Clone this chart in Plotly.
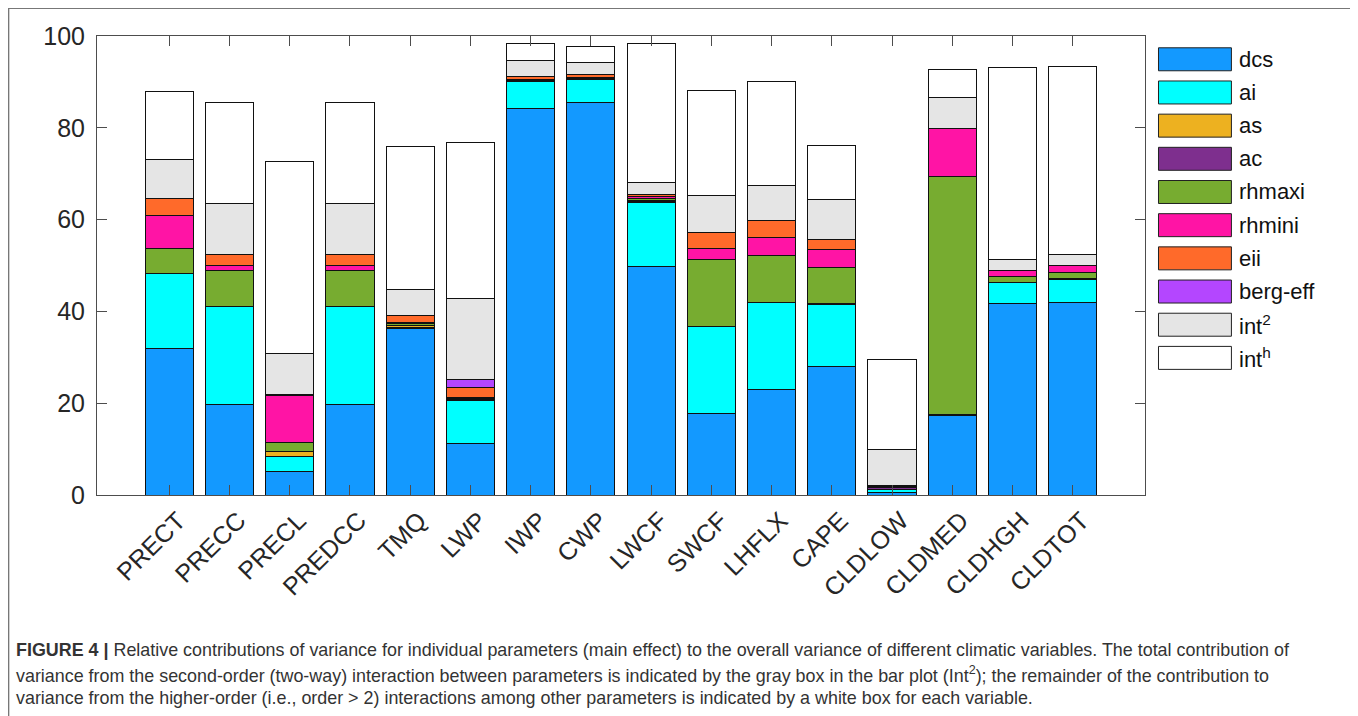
import plotly.graph_objects as go

categories = ["PRECT", "PRECC", "PRECL", "PREDCC", "TMQ", "LWP", "IWP", "CWP",
              "LWCF", "SWCF", "LHFLX", "CAPE", "CLDLOW", "CLDMED", "CLDHGH", "CLDTOT"]

dcs      = [32.0, 19.8, 5.1, 19.8, 36.3, 11.3, 84.1, 85.6, 49.7, 17.7, 23.0, 28.0, 0.5, 17.4, 41.8, 42.0]
ai       = [16.3, 21.2, 3.2, 21.2, 0.2, 9.2, 5.9, 5.0, 14.1, 19.0, 18.9, 13.5, 0.6, 0.0, 4.5, 5.0]
as_      = [0.0, 0.0, 1.1, 0.0, 0.4, 0.2, 0.1, 0.1, 0.1, 0.0, 0.0, 0.1, 0.2, 0.0, 0.0, 0.0]
ac       = [0.0, 0.0, 0.1, 0.0, 0.1, 0.2, 0.2, 0.1, 0.2, 0.0, 0.1, 0.2, 0.3, 0.2, 0.1, 0.1]
rhmaxi   = [5.4, 8.0, 1.9, 8.0, 0.3, 0.2, 0.1, 0.1, 0.6, 14.5, 10.1, 7.8, 0.2, 51.8, 1.2, 1.4]
rhmini   = [7.3, 1.0, 10.3, 1.0, 0.2, 0.1, 0.1, 0.05, 0.3, 2.4, 4.1, 3.9, 0.1, 10.5, 1.4, 1.5]
eii      = [3.6, 2.3, 0.2, 2.3, 1.6, 2.2, 0.6, 0.6, 0.4, 3.6, 3.6, 2.2, 0.1, 0.0, 0.0, 0.0]
berg_eff = [0.0, 0.0, 0.1, 0.0, 0.0, 1.7, 0.0, 0.0, 0.0, 0.0, 0.0, 0.0, 0.0, 0.0, 0.0, 0.0]
int2     = [8.4, 11.1, 8.8, 11.1, 5.7, 17.8, 3.5, 2.7, 2.6, 8.0, 7.7, 8.6, 8.0, 6.7, 2.3, 2.4]
inth     = [14.9, 22.1, 41.8, 22.1, 31.2, 33.9, 3.7, 3.4, 30.4, 23.0, 22.5, 11.8, 19.6, 6.1, 41.8, 40.9]

series_names = ["dcs", "ai", "as", "ac", "rhmaxi", "rhmini", "eii", "berg-eff",
                "int<sup>2</sup>", "int<sup>h</sup>"]
series_values = [dcs, ai, as_, ac, rhmaxi, rhmini, eii, berg_eff, int2, inth]
series_colors = ["#1399FF", "#00FFFF", "#EDB120", "#7E2F8E", "#77AC30",
                 "#FF14A5", "#FF6A2A", "#B446FF", "#E5E5E5", "#FFFFFF"]

y_ticks = [0, 20, 40, 60, 80, 100]

caption_lines = [
    "<b>FIGURE 4 |</b> Relative contributions of variance for individual parameters (main effect) to the overall variance of different climatic variables. The total contribution of",
    "variance from the second-order (two-way) interaction between parameters is indicated by the gray box in the bar plot (Int<sup>2</sup>); the remainder of the contribution to",
    "variance from the higher-order (i.e., order > 2) interactions among other parameters is indicated by a white box for each variable.",
]

OFF = 8  # page body margin
W, H = 1358 - OFF, 716 - OFF
L, R, T, B = 96.5 - OFF, 1145.5 - OFF, 35.7 - OFF, 495.0 - OFF


def px(xp):
    return (xp - OFF - L) / (R - L)


def py(yp):
    return (B - (yp - OFF)) / (B - T)


fig = go.Figure()
for name, vals, col in zip(series_names, series_values, series_colors):
    fig.add_trace(go.Bar(
        x=categories, y=vals, name=name, width=0.8,
        marker=dict(color=col, line=dict(color="#111111", width=1)),
        showlegend=False,
    ))

AX = "#4d4d4d"
fig.update_layout(
    width=W, height=H,
    barmode="stack",
    plot_bgcolor="white", paper_bgcolor="white",
    margin=dict(l=L, r=W - R, t=T, b=H - B, pad=0),
    font=dict(family="Liberation Sans, Arial, sans-serif", color="#262626"),
    xaxis=dict(
        range=[-1.2, 16.2], tickangle=-45, ticks="inside", ticklen=10,
        tickcolor=AX, showline=True, linecolor=AX, linewidth=1, mirror="ticks",
        tickfont=dict(size=25, color="#262626"), showgrid=False,
        ticklabelshift=9, ticklabelstandoff=0,
    ),
    yaxis=dict(
        range=[0, 100], tickvals=y_ticks, ticks="inside", ticklen=10,
        tickcolor=AX, showline=True, linecolor=AX, linewidth=1, mirror="ticks",
        tickfont=dict(size=25, color="#262626"), showgrid=False, zeroline=False,
        ticklabelstandoff=6,
    ),
)

# outer frame
fig.add_shape(type="rect", xref="paper", yref="paper",
              x0=px(8), x1=px(1355.5), y0=py(740), y1=py(8),
              line=dict(color="#777777", width=1.5), fillcolor="rgba(0,0,0,0)", layer="below")

# legend
y0_leg, dy_leg = 59.0, 33.2
for i, (name, col) in enumerate(zip(series_names, series_colors)):
    yc = y0_leg + i * dy_leg
    fig.add_shape(type="rect", xref="paper", yref="paper",
                  x0=px(1159), x1=px(1232), y0=py(yc + 11.5), y1=py(yc - 11.5),
                  line=dict(color="#222222", width=1), fillcolor=col)
    fig.add_annotation(xref="paper", yref="paper", x=px(1238), y=py(yc),
                       xanchor="left", yanchor="middle", text=name, showarrow=False,
                       font=dict(size=22, color="#111111"))

# caption
for i, line in enumerate(caption_lines):
    fig.add_annotation(xref="paper", yref="paper", x=px(13), y=py(650 + i * 24.3),
                       xanchor="left", yanchor="middle", text=line, showarrow=False,
                       align="left", font=dict(size=17.9, color="#333333"))

fig.write_html("out.html")
